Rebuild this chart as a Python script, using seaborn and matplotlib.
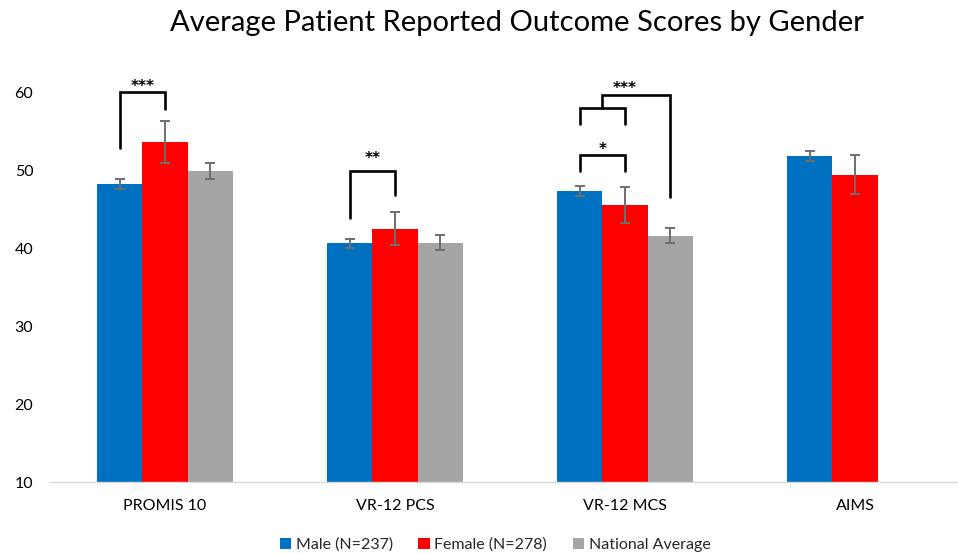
import matplotlib
matplotlib.use("Agg")
import matplotlib.pyplot as plt
from matplotlib.container import BarContainer
import seaborn as sns
import pandas as pd
import numpy as np

categories = ["PROMIS 10", "VR-12 PCS", "VR-12 MCS", "AIMS"]
groups = ["Male (N=237)", "Female (N=278)", "National Average"]
male = [48.2, 40.6, 47.3, 51.8]
female = [53.6, 42.5, 45.5, 49.4]
national = [49.9, 40.7, 41.6, np.nan]
male_err = [0.6, 0.6, 0.6, 0.6]
female_err = [2.7, 2.1, 2.3, 2.5]
national_err = [1.0, 1.0, 1.0, np.nan]
colors = ["#0070C0", "#FF0000", "#A5A5A5"]
yticks = [10, 20, 30, 40, 50, 60]

# significance brackets: (category, left group, right group, top y, left bottom y, right bottom y, label, label baseline y)
brackets = [
    (0, 0, 1, 60.0, 52.8, 57.8, "***", 60.1),
    (1, 0, 1, 49.9, 43.8, 46.8, "**", 50.9),
    (2, 0, 1, 51.9, 49.9, 49.9, "*", 52.0),
]
# nested bracket in VR-12 MCS: inner pair (male, female) against national
nested_inner = (2, 0, 1, 58.0, 55.9, 55.9)
nested_outer = (2, 2, 59.65, 46.6, "***", 59.9)

sns.set_theme(style="white")
plt.rcParams["font.family"] = ["Lato", "DejaVu Sans"]

values = {"Male (N=237)": male, "Female (N=278)": female, "National Average": national}
errs = [male_err, female_err, national_err]
rows = []
for g in groups:
    for c, v in zip(categories, values[g]):
        rows.append({"category": c, "group": g, "value": v})
df = pd.DataFrame(rows)

W, H = 958, 554
fig = plt.figure(figsize=(W / 100, H / 100), dpi=100)
left_px, right_px = 50, 958
bottom_px, top_px = 482, 53
ax = fig.add_axes([left_px / W, (H - bottom_px) / H, (right_px - left_px) / W, (bottom_px - top_px) / H])

sns.barplot(data=df, x="category", y="value", hue="group", order=categories, hue_order=groups,
            palette=colors, width=0.587, errorbar=None, saturation=1, linewidth=0, ax=ax)

handles, labels = ax.get_legend_handles_labels()
if ax.get_legend() is not None:
    ax.get_legend().remove()

# collect bar centers
bar_conts = [c for c in ax.containers if isinstance(c, BarContainer)]
centers = {}
pending = []
for gi, cont in enumerate(bar_conts):
    for bar in cont:
        if bar is None:
            continue
        x = bar.get_x() + bar.get_width() / 2
        ci = int(round(x))
        h = bar.get_height()
        centers[(ci, gi)] = x
        e = errs[gi][ci]
        if not np.isnan(h) and not np.isnan(e):
            pending.append((x, h, e))
for x, h, e in pending:
    ax.errorbar(x, h, yerr=e, fmt="none", ecolor="#6E6E6E", elinewidth=1.4,
                capsize=3.3, capthick=1.4, zorder=3)

ax.set_xlim(-0.5, -0.5 + (right_px - left_px) / 230)
ax.set_ylim(10, 65)
ax.set_yticks(yticks)
ax.set_yticklabels([str(t) for t in yticks])
ax.set_xlabel("")
ax.set_ylabel("")
ax.tick_params(axis="y", length=0, pad=12, labelsize=11.5, colors="#000000")
ax.tick_params(axis="x", length=0, pad=12, labelsize=11.5, colors="#000000")
for s in ["top", "right", "left"]:
    ax.spines[s].set_visible(False)
ax.spines["bottom"].set_color("#D9D9D9")
ax.spines["bottom"].set_linewidth(1)
ax.grid(False)

lw = 1.9
star_kw = dict(ha="center", va="baseline", fontsize=11, family=["DejaVu Sans"],
               fontweight="bold", color="black")
for ci, gl, gr, ytop, yl, yr, lab, ylab in brackets:
    xl, xr = centers[(ci, gl)], centers[(ci, gr)]
    ax.plot([xl, xl, xr, xr], [yl, ytop, ytop, yr], color="black", lw=lw, solid_joinstyle="miter", zorder=4)
    ax.text((xl + xr) / 2, ylab, lab, **star_kw)

ci, gl, gr, ytop, yl, yr = nested_inner
xl, xr = centers[(ci, gl)], centers[(ci, gr)]
ax.plot([xl, xl, xr, xr], [yl, ytop, ytop, yr], color="black", lw=lw, solid_joinstyle="miter", zorder=4)
xm = (xl + xr) / 2
oci, ogi, otop, obot, olab, oylab = nested_outer
xo = centers[(oci, ogi)]
ax.plot([xm, xm, xo, xo], [ytop, otop, otop, obot], color="black", lw=lw, solid_joinstyle="miter", zorder=4)
ax.text(xr, oylab, olab, **star_kw)

fig.text(517 / W, 1 - 23 / H, "Average Patient Reported Outcome Scores by Gender",
         ha="center", va="center", fontsize=21, color="black")

fig.legend(handles, labels, loc="center", bbox_to_anchor=(495 / W, 9 / H), ncol=3, frameon=False,
           fontsize=11.5, handlelength=0.7, handleheight=0.7, handletextpad=0.3, columnspacing=1.6)

fig.savefig("out.png", dpi=100)
